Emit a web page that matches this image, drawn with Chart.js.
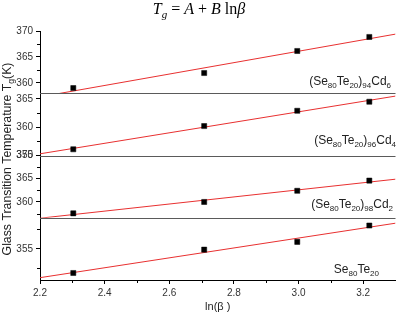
<!DOCTYPE html>
<html><head><meta charset="utf-8">
<script src="https://cdn.jsdelivr.net/npm/chart.js@4.4.1/dist/chart.umd.min.js"></script>
<style>html,body{margin:0;padding:0;background:#fff}#wrap{width:400px;height:314px;position:relative}</style>
</head><body><div id="wrap"><canvas id="c"></canvas></div>
<script>
// x values: ln(beta)
const lnBeta = [2.303, 2.708, 2.996, 3.219];
// Tg (K) for each composition
const tgCd6 = [359.0, 361.9, 366.15, 368.85];
const tgCd4 = [356.1, 360.2, 362.9, 364.5];
const tgCd2 = [357.55, 360.0, 362.4, 364.6];
const tgSeTe = [351.9, 354.9, 355.9, 358.0];
// linear fit values at the x-range ends
const fitX = [2.2, 3.3];
const fitCd6 = [357.3, 369.4];
const fitCd4 = [355.3, 365.5];
const fitCd2 = [356.5, 364.9];
const fitSeTe = [351.3, 358.3];
// axis ranges and ticks
const xRange = [2.2, 3.3];
const xTicks = [2.2, 2.4, 2.6, 2.8, 3.0, 3.2];
const xMinor = [2.3, 2.5, 2.7, 2.9, 3.1];
const yRangeCd6 = [358, 370], yTicksCd6 = [360, 365, 370], yMinorCd6 = [362.5, 367.5];
const yRangeCd4 = [355, 366], yTicksCd4 = [355, 360, 365], yMinorCd4 = [357.5, 362.5];
const yRangeCd2 = [356.6, 370], yTicksCd2 = [360, 365, 370], yMinorCd2 = [357.5, 362.5, 367.5];
const yRangeSeTe = [351, 359], yTicksSeTe = [355], yMinorSeTe = [352.5, 357.5];
// panel names (text, isSubscript)
const nameCd6 = [['(Se',0],['80',1],['Te',0],['20',1],[')',0],['94',1],['Cd',0],['6',1]];
const nameCd4 = [['(Se',0],['80',1],['Te',0],['20',1],[')',0],['96',1],['Cd',0],['4',1]];
const nameCd2 = [['(Se',0],['80',1],['Te',0],['20',1],[')',0],['98',1],['Cd',0],['2',1]];
const nameSeTe = [['Se',0],['80',1],['Te',0],['20',1]];

const pts = (xs, ys) => xs.map((x, i) => ({x, y: ys[i]}));
const RED = 'rgb(232,48,48)';

// panels: bottom to top (first defined axis is placed at the bottom of the stack)
const panels = [
  {id: 'ySeTe', tg: tgSeTe, fit: fitSeTe, range: yRangeSeTe, ticks: yTicksSeTe, minor: yMinorSeTe, name: nameSeTe, lab: {right: 379, up: 7.5}},
  {id: 'yCd2', tg: tgCd2, fit: fitCd2, range: yRangeCd2, ticks: yTicksCd2, minor: yMinorCd2, name: nameCd2, lab: {right: 393, up: 9.5}},
  {id: 'yCd4', tg: tgCd4, fit: fitCd4, range: yRangeCd4, ticks: yTicksCd4, minor: yMinorCd4, name: nameCd4, lab: {right: 396, up: 12}},
  {id: 'yCd6', tg: tgCd6, fit: fitCd6, range: yRangeCd6, ticks: yTicksCd6, minor: yMinorCd6, name: nameCd6, lab: {right: 391, up: 8}}
];

const datasets = [];
panels.forEach(p => {
  datasets.push({type: 'scatter', data: pts(lnBeta, p.tg), yAxisID: p.id, pointStyle: 'rect',
    pointRadius: 3.6, backgroundColor: '#000', borderColor: '#000', borderWidth: 0.5, showLine: false});
});
panels.forEach(p => {
  datasets.push({type: 'line', data: pts(fitX, p.fit), yAxisID: p.id, borderColor: RED,
    borderWidth: 1, pointRadius: 0, fill: false, tension: 0});
});

const scales = {
  x: {
    type: 'linear', min: xRange[0], max: xRange[1],
    border: {display: true, color: '#000', width: 1},
    grid: {drawOnChartArea: false, drawTicks: true, tickLength: 4, color: '#000'},
    ticks: {autoSkip: false, maxRotation: 0, padding: 3, color: '#333',
      font: {family: 'Liberation Sans, Arial', size: 10}, callback: v => Number(v).toFixed(1)},
    afterBuildTicks: s => { s.ticks = xTicks.map(v => ({value: v})); },
    afterFit: s => { s.height = 34; },
    title: {display: true, text: 'ln(β )', color: '#222', font: {family: 'Liberation Sans, Arial', size: 11}, padding: {top: 0, bottom: 0}}
  }
};
panels.forEach(p => {
  scales[p.id] = {
    type: 'linear', position: 'left', stack: 'panels', stackWeight: 1,
    min: p.range[0], max: p.range[1],
    border: {display: true, color: '#000', width: 1},
    grid: {drawOnChartArea: false, drawTicks: true, tickLength: 4, color: '#000'},
    ticks: {autoSkip: false, padding: 3, color: '#333',
      font: {family: 'Liberation Sans, Arial', size: 10}, callback: v => String(Math.round(v))},
    afterBuildTicks: s => { s.ticks = p.ticks.map(v => ({value: v})); },
    afterFit: s => { s.width = 40; }
  };
});

function drawSegs(ctx, segs, xRight, yBase, big, small, dy) {
  let w = 0;
  segs.forEach(([t, sub]) => { ctx.font = (sub ? small : big) + 'px "Liberation Sans", Arial'; w += ctx.measureText(t).width; });
  let x = xRight - w;
  segs.forEach(([t, sub]) => {
    ctx.font = (sub ? small : big) + 'px "Liberation Sans", Arial';
    ctx.fillText(t, x, yBase + (sub ? dy : 0));
    x += ctx.measureText(t).width;
  });
}

const decor = {
  id: 'decor',
  afterDatasetsDraw(chart) {
    const ctx = chart.ctx, ca = chart.chartArea;
    ctx.save();
    // panel separators
    ctx.strokeStyle = '#5a5a5a'; ctx.lineWidth = 1.1;
    panels.forEach((p, i) => {
      if (i === 0) return;
      const s = chart.scales[p.id];
      const y = Math.round(s.bottom) + 0.5;
      ctx.beginPath(); ctx.moveTo(ca.left, y); ctx.lineTo(ca.right, y); ctx.stroke();
    });
    // minor ticks
    ctx.strokeStyle = '#000'; ctx.lineWidth = 1;
    panels.forEach(p => {
      const s = chart.scales[p.id];
      p.minor.forEach(v => {
        const y = Math.round(s.getPixelForValue(v)) + 0.5;
        ctx.beginPath(); ctx.moveTo(s.right - 3, y); ctx.lineTo(s.right, y); ctx.stroke();
      });
    });
    const xs = chart.scales.x;
    xMinor.forEach(v => {
      const x = Math.round(xs.getPixelForValue(v)) + 0.5;
      ctx.beginPath(); ctx.moveTo(x, ca.bottom); ctx.lineTo(x, ca.bottom + 3); ctx.stroke();
    });
    // panel names
    ctx.fillStyle = '#222'; ctx.textBaseline = 'alphabetic'; ctx.textAlign = 'left';
    panels.forEach(p => {
      const s = chart.scales[p.id];
      drawSegs(ctx, p.name, p.lab.right, s.bottom - p.lab.up, 12, 8, 3);
    });
    // y-axis title (rotated, with subscript)
    ctx.save();
    ctx.translate(10.5, 159);
    ctx.rotate(-Math.PI / 2);
    const yt = [['Glass Transition Temperature T', 0], ['g', 1], ['(K)', 0]];
    let w = 0;
    yt.forEach(([t, sub]) => { ctx.font = (sub ? 8.5 : 12.3) + 'px "Liberation Sans", Arial'; w += ctx.measureText(t).width; });
    let x = -w / 2;
    yt.forEach(([t, sub]) => {
      ctx.font = (sub ? 8.5 : 12.3) + 'px "Liberation Sans", Arial';
      ctx.fillText(t, x, sub ? 3 : 0);
      x += ctx.measureText(t).width;
    });
    ctx.restore();
    // title: T_g = A + B ln(beta)
    const title = [['T', 'italic 16px', 0], ['g', 'italic 11px', 3.5], [' = ', '16px', 0], ['A', 'italic 16px', 0],
      [' + ', '16px', 0], ['B', 'italic 16px', 0], [' ln', '16px', 0], ['β', 'italic 16px', 0]];
    let tw = 0;
    title.forEach(([t, f]) => { ctx.font = f + ' "Liberation Serif", "Times New Roman", serif'; tw += ctx.measureText(t).width; });
    let tx = 199 - tw / 2;
    ctx.fillStyle = '#000';
    title.forEach(([t, f, dy]) => {
      ctx.font = f + ' "Liberation Serif", "Times New Roman", serif';
      ctx.fillText(t, tx, 14 + dy);
      tx += ctx.measureText(t).width;
    });
    ctx.restore();
  }
};

new Chart(document.getElementById('c'), {
  type: 'scatter',
  data: {datasets},
  options: {
    responsive: true, maintainAspectRatio: false, animation: false, devicePixelRatio: 1,
    layout: {padding: {top: 31, right: 0, left: 0, bottom: 0}},
    plugins: {legend: {display: false}, tooltip: {enabled: false}, title: {display: false}},
    scales
  },
  plugins: [decor]
});
</script>
</body></html>
